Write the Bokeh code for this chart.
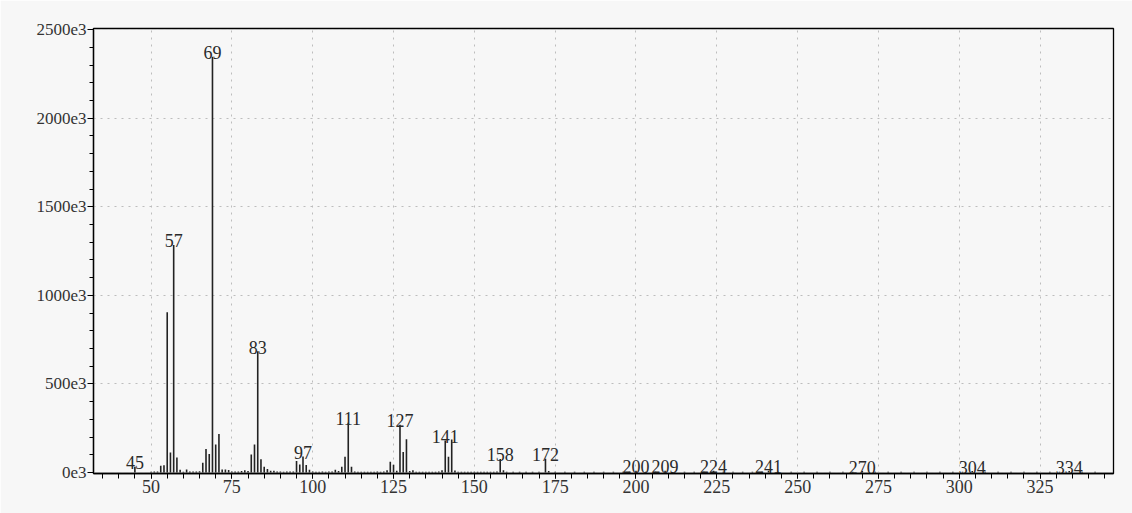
from bokeh.plotting import figure
from bokeh.models import ColumnDataSource, SingleIntervalTicker, CustomJSTickFormatter, Range1d
from bokeh.core.properties import value
from bokeh.embed import file_html
from bokeh.resources import INLINE

# ---- data (m/z, abundance) ----
mz = [45, 50, 51, 52, 53, 54, 55, 56, 57, 58, 59, 60, 61, 62, 63, 64, 65,
      66, 67, 68, 69, 70, 71, 72, 73, 74, 75, 76, 77, 78, 79, 80,
      81, 82, 83, 84, 85, 86, 87, 88, 89, 90, 91, 92, 93, 94,
      95, 96, 97, 98, 99, 100, 101, 102, 103, 104, 105, 106,
      107, 108, 109, 110, 111, 112, 113, 114, 115, 116, 117, 118, 119, 120, 121, 122,
      123, 124, 125, 126, 127, 128, 129, 130, 131, 132, 133, 134, 135, 136, 137, 138, 139,
      140, 141, 142, 143, 144, 145, 146, 147, 148, 149, 150, 151, 152, 153, 154, 155, 156, 157,
      158, 159, 160, 162, 164, 166, 168, 170, 172, 173, 175, 178, 181, 184, 187, 190,
      193, 196, 198, 200, 203, 206, 209, 212, 215, 218, 221, 224, 227, 230, 233, 236,
      239, 241, 244, 248, 252, 256, 260, 264, 267, 270, 274, 278, 282, 286, 290, 294,
      298, 301, 304, 308, 312, 316, 320, 324, 328, 331, 334, 338, 342]
intensity = [32e3, 4e3, 5e3, 6e3, 38e3, 40e3, 905e3, 113e3, 1285e3, 85e3, 15e3, 4e3, 17e3, 5e3, 5e3, 5e3, 7e3,
             55e3, 132e3, 104e3, 2348e3, 158e3, 217e3, 16e3, 16e3, 14e3, 5e3, 5e3, 6e3, 8e3, 13e3, 8e3,
             102e3, 158e3, 685e3, 75e3, 32e3, 19e3, 10e3, 10e3, 5e3, 5e3, 4e3, 5e3, 5e3, 6e3,
             64e3, 45e3, 90e3, 42e3, 15e3, 5e3, 4e3, 4e3, 5e3, 4e3, 5e3, 6e3,
             15e3, 8e3, 32e3, 89e3, 280e3, 32e3, 6e3, 4e3, 4e3, 4e3, 4e3, 4e3, 4e3, 5e3, 4e3, 5e3,
             13e3, 60e3, 43e3, 10e3, 270e3, 115e3, 187e3, 8e3, 13e3, 4e3, 4e3, 4e3, 4e3, 4e3, 4e3, 4e3, 5e3,
             13e3, 181e3, 89e3, 186e3, 11e3, 4e3, 4e3, 4e3, 4e3, 4e3, 4e3, 4e3, 4e3, 4e3, 4e3, 4e3, 4e3, 5e3,
             76e3, 12e3, 4e3, 4e3, 4e3, 4e3, 4e3, 4e3, 77e3, 8e3, 4e3, 4e3, 4e3, 4e3, 4e3, 4e3,
             4e3, 4e3, 4e3, 9e3, 4e3, 4e3, 9e3, 4e3, 4e3, 4e3, 4e3, 9e3, 4e3, 4e3, 4e3, 4e3,
             4e3, 9e3, 4e3, 4e3, 4e3, 4e3, 4e3, 4e3, 4e3, 8e3, 4e3, 4e3, 4e3, 4e3, 4e3, 4e3,
             4e3, 4e3, 8e3, 4e3, 4e3, 4e3, 4e3, 4e3, 4e3, 4e3, 8e3, 4e3, 4e3]

label_mz = [45, 57, 69, 83, 97, 111, 127, 141, 158, 172, 200, 209, 224, 241, 270, 304, 334]

abund = dict(zip(mz, intensity))
label_y = [abund[m] for m in label_mz]
label_text = [str(m) for m in label_mz]

bars = ColumnDataSource(dict(mz=mz, y0=[0] * len(mz), y1=intensity))
labels = ColumnDataSource(dict(mz=label_mz, y=label_y, text=label_text))

BG = "#f7f7f7"
FONT = "Liberation Serif"

p = figure(width=1132, height=513, output_backend="svg", toolbar_location=None,
           x_range=Range1d(32.2, 347.7), y_range=Range1d(-6e3, 2507e3),
           min_border_left=93, min_border_right=19, min_border_top=28, min_border_bottom=40,
           background_fill_color=BG, border_fill_color=BG)

p.segment(x0="mz", y0="y0", x1="mz", y1="y1", source=bars,
          line_color="#222222", line_width=1.6)

p.text(x="mz", y="y", text="text", source=labels,
       text_font=value(FONT), text_font_size="18px", text_align="center",
       text_baseline="alphabetic", text_color="#2a2a2a", y_offset=-4)

p.outline_line_color = "black"
p.outline_line_width = 1.3
p.outline_line_alpha = 1.0

# x axis
p.xaxis.ticker = SingleIntervalTicker(interval=25, num_minor_ticks=5)
p.xaxis.major_label_text_font = FONT
p.xaxis.major_label_text_font_size = "18px"
p.xaxis.major_label_text_color = "#333333"
p.xaxis.major_tick_out = 5
p.xaxis.major_tick_in = 0
p.xaxis.minor_tick_out = 5
p.xaxis.minor_tick_in = 0
p.xaxis.major_label_standoff = 1
p.xaxis.axis_line_color = "black"
p.xaxis.axis_line_width = 1.3

# y axis
p.yaxis.ticker = SingleIntervalTicker(interval=500e3, num_minor_ticks=5)
p.yaxis.formatter = CustomJSTickFormatter(code="return Math.round(tick/1000) + 'e3';")
p.yaxis.major_label_text_font = FONT
p.yaxis.major_label_text_font_size = "17px"
p.yaxis.major_label_text_color = "#333333"
p.yaxis.major_tick_out = 6
p.yaxis.major_tick_in = 0
p.yaxis.minor_tick_out = 4
p.yaxis.minor_tick_in = 0
p.yaxis.major_label_standoff = 1
p.yaxis.axis_line_color = "black"
p.yaxis.axis_line_width = 1.3

# grid
for g in (p.xgrid, p.ygrid):
    g.grid_line_color = "#bdbdbd"
    g.grid_line_dash = "2 5"
    g.grid_line_width = 1

open("out.html", "w").write(file_html(p, INLINE))
